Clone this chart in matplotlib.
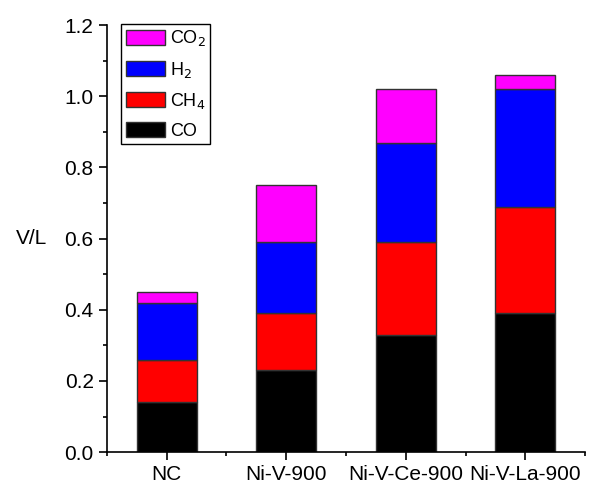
import matplotlib.pyplot as plt
import numpy as np
from matplotlib import rcParams
from matplotlib.ticker import MultipleLocator

rcParams['font.family'] = 'Liberation Sans'
rcParams['font.size'] = 15

# Data (stacked volumes, V/L)
categories = ['NC', 'Ni-V-900', 'Ni-V-Ce-900', 'Ni-V-La-900']
co = [0.14, 0.23, 0.33, 0.39]
ch4 = [0.12, 0.16, 0.26, 0.30]
h2 = [0.16, 0.20, 0.28, 0.33]
co2 = [0.03, 0.16, 0.15, 0.04]

series = [('CO', co, 'black'), ('CH$_4$', ch4, 'red'),
          ('H$_2$', h2, 'blue'), ('CO$_2$', co2, 'magenta')]

fig = plt.figure(figsize=(5.97, 4.83), dpi=100)
ax = fig.add_axes([0.179, 0.064, 0.801, 0.884])

x = np.arange(len(categories))
bottom = np.zeros(len(categories))
for name, vals, col in series:
    ax.bar(x, vals, width=0.5, bottom=bottom, color=col,
           edgecolor='#333333', linewidth=1, label=name)
    bottom += np.array(vals)

ax.set_xlim(-0.5, 3.5)
ax.set_ylim(0, 1.2)
ax.set_xticks(x)
ax.set_xticklabels(categories)
ax.set_xticks([-0.5, 0.5, 1.5, 2.5, 3.5], minor=True)
ax.yaxis.set_major_locator(MultipleLocator(0.2))
ax.yaxis.set_minor_locator(MultipleLocator(0.1))
ax.yaxis.set_major_formatter(plt.FormatStrFormatter('%.1f'))
ax.tick_params(which='major', direction='out', length=6, width=1.2)
ax.tick_params(which='minor', direction='out', length=3, width=1.2)
ax.spines['top'].set_visible(False)
ax.spines['right'].set_visible(False)
ax.spines['left'].set_linewidth(1.2)
ax.spines['bottom'].set_linewidth(1.2)

ax.set_ylabel('V/L', rotation=0, labelpad=24, va='center')

handles, labels = ax.get_legend_handles_labels()
leg = ax.legend(handles[::-1], labels[::-1], loc='upper left',
                bbox_to_anchor=(0.03, 1.003), fontsize=13, fancybox=False,
                edgecolor='black', framealpha=1, handlelength=2.15,
                handleheight=0.9, labelspacing=0.62, borderpad=0.25,
                handletextpad=0.3, borderaxespad=0)
leg.get_frame().set_linewidth(1)

plt.savefig('out.png', dpi=100)
